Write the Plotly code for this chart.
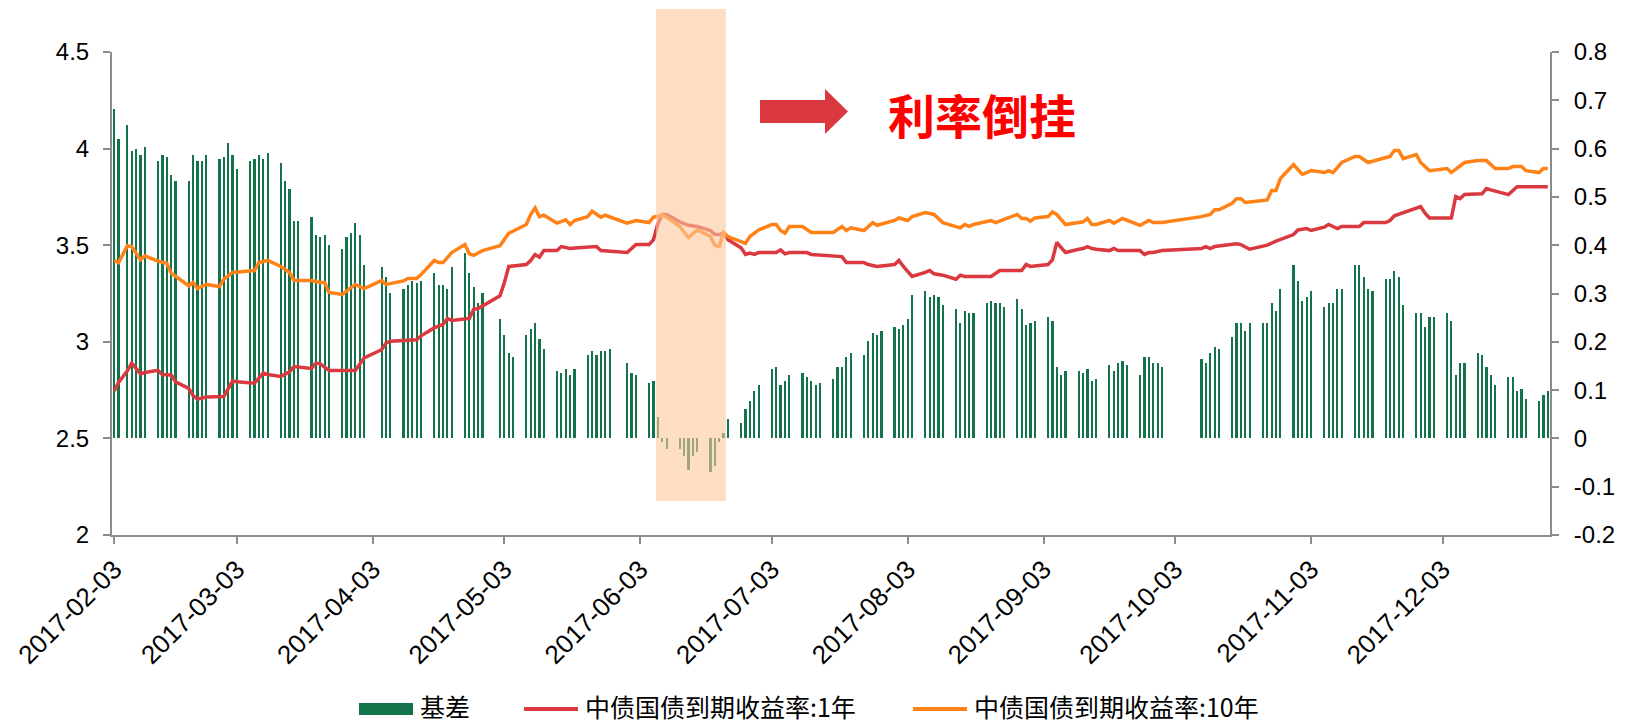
import pandas as pd
import plotly.graph_objects as go

# ── trading calendar (Shanghai, 2017) ────────────────────────────
HOLIDAYS = ["2017-04-03", "2017-04-04", "2017-05-01", "2017-05-29", "2017-05-30",
            "2017-10-02", "2017-10-03", "2017-10-04", "2017-10-05", "2017-10-06"]
MAKEUP_DAYS = ["2017-02-04", "2017-04-01", "2017-05-27", "2017-09-30"]

trade_days = pd.bdate_range("2017-02-03", "2017-12-27")
trade_days = trade_days.drop(pd.to_datetime(HOLIDAYS)).union(pd.to_datetime(MAKEUP_DAYS))

# ── 基差 (right axis), one value per trading day ─────────────────
basis = [
    0.681, 0.620,                              # 02-03..02-04
    0.649, 0.595, 0.599, 0.587, 0.603,
    0.574, 0.587, 0.583, 0.546, 0.533,
    0.533, 0.587, 0.574, 0.574, 0.587,
    0.579, 0.583, 0.612, 0.587, 0.558,         # 02-27..03-03
    0.574, 0.579, 0.587, 0.579, 0.591,
    0.570, 0.533, 0.517, 0.450, 0.450,
    0.459, 0.421, 0.417, 0.421, 0.401,
    0.392, 0.417, 0.426, 0.446, 0.421, 0.359,  # 03-27..04-01
    0.355, 0.334, 0.301,                       # 04-05..04-07
    0.310, 0.318, 0.326, 0.322, 0.326,
    0.343, 0.318, 0.318, 0.310, 0.355,
    0.384, 0.343, 0.314, 0.281, 0.301,
    0.248, 0.214, 0.177, 0.169,                # 05-02..05-05
    0.214, 0.227, 0.239, 0.206, 0.186,
    0.140, 0.136, 0.144, 0.132, 0.144,
    0.173, 0.181, 0.173, 0.181, 0.181, 0.186,  # 05-22..05-27
    0.157, 0.136, 0.132,                       # 05-31..06-02
    0.115, 0.119, 0.045, -0.007, -0.021,
    -0.021, -0.037, -0.066, -0.037, -0.029,
    -0.070, -0.058, -0.008, 0.012, 0.041,
    0.032, 0.061, 0.078, 0.099, 0.111,
    0.144, 0.148, 0.111, 0.119, 0.132,         # 07-03
    0.136, 0.128, 0.119, 0.111, 0.115,
    0.123, 0.148, 0.148, 0.169, 0.177,
    0.173, 0.202, 0.219, 0.214, 0.223,
    0.231, 0.227, 0.235, 0.248, 0.297,         # 07-31..08-04
    0.306, 0.293, 0.297, 0.293, 0.277,
    0.268, 0.239, 0.264, 0.260, 0.260,
    0.281, 0.285, 0.281, 0.281, 0.272,
    0.289, 0.268, 0.235, 0.239, 0.243,         # 08-28..09-01
    0.252, 0.243, 0.148, 0.132, 0.140,
    0.140, 0.136, 0.144, 0.119, 0.123,
    0.152, 0.140, 0.157, 0.161, 0.152,
    0.132, 0.169, 0.169, 0.157, 0.157, 0.148,  # 09-25..09-30
    0.165, 0.157, 0.177, 0.190, 0.186,         # 10-09
    0.210, 0.239, 0.239, 0.223, 0.239,
    0.239, 0.239, 0.281, 0.264, 0.310,
    0.359, 0.326, 0.285, 0.293, 0.306,         # 10-30..11-03
    0.272, 0.281, 0.281, 0.310, 0.310,
    0.359, 0.359, 0.334, 0.310, 0.306,
    0.330, 0.330, 0.347, 0.334, 0.277,
    0.260, 0.260, 0.231, 0.252, 0.252,         # 11-27..12-01
    0.260, 0.243, 0.132, 0.157, 0.157,
    0.177, 0.173, 0.148, 0.132, 0.111,
    0.128, 0.128, 0.099, 0.103, 0.082,
    0.078, 0.090, 0.099,                       # 12-25..12-27
]
assert len(basis) == len(trade_days)

# ── 中债国债到期收益率:1年 (left axis) ───────────────────────────
y1_dates = [
    "02-03", "02-04", "02-06", "02-07", "02-09", "02-10", "02-13", "02-14", "02-16", "02-17",
    "02-20", "02-21", "02-22", "02-24", "02-28", "03-02", "03-03", "03-07", "03-09", "03-10",
    "03-13", "03-15", "03-16", "03-20", "03-21", "03-22", "03-24", "03-30", "04-01", "04-05",
    "04-06", "04-07", "04-13", "04-14", "04-17", "04-18", "04-19", "04-20", "04-21", "04-25",
    "04-26", "04-27", "05-02", "05-03", "05-04", "05-08", "05-09", "05-10", "05-11", "05-12",
    "05-15", "05-16", "05-18", "05-19", "05-23", "05-24", "05-25", "05-31", "06-02", "06-05",
    "06-06", "06-07", "06-08", "06-09", "06-12", "06-14", "06-16", "06-19", "06-20", "06-21",
    "06-22", "06-23", "06-26", "06-27", "06-28", "06-29", "06-30", "07-04", "07-05", "07-06",
    "07-07", "07-11", "07-12", "07-18", "07-19", "07-20", "07-24", "07-25", "07-27", "07-31",
    "08-01", "08-02", "08-04", "08-07", "08-08", "08-09", "08-11", "08-14", "08-15", "08-16",
    "08-18", "08-22", "08-24", "08-29", "08-30", "08-31", "09-04", "09-05", "09-06", "09-08",
    "09-11", "09-12", "09-13", "09-14", "09-15", "09-18", "09-19", "09-20", "09-25", "09-26",
    "09-27", "09-28", "09-30", "10-09", "10-10", "10-11", "10-12", "10-17", "10-18", "10-20",
    "10-24", "10-26", "10-30", "10-31", "11-02", "11-03", "11-06", "11-07", "11-09", "11-10",
    "11-14", "11-15", "11-20", "11-21", "11-22", "11-24", "11-28", "11-29", "11-30", "12-05",
    "12-06", "12-07", "12-08", "12-12", "12-13", "12-14", "12-18", "12-20", "12-27",
]
y1_vals = [
    2.745, 2.79, 2.85, 2.89, 2.834, 2.841, 2.852, 2.831, 2.828, 2.793,
    2.759, 2.721, 2.703, 2.714, 2.717, 2.797, 2.793, 2.786, 2.838, 2.831,
    2.821, 2.845, 2.872, 2.862, 2.890, 2.886, 2.852, 2.852, 2.917, 2.959,
    2.993, 3.003, 3.010, 3.031, 3.072, 3.083, 3.090, 3.121, 3.110, 3.121,
    3.169, 3.172, 3.238, 3.307, 3.390, 3.400, 3.421, 3.452, 3.438, 3.472,
    3.472, 3.493, 3.483, 3.486, 3.493, 3.493, 3.472, 3.462, 3.503, 3.503,
    3.528, 3.610, 3.659, 3.659, 3.621, 3.603, 3.597, 3.576, 3.555, 3.555,
    3.562, 3.528, 3.486, 3.452, 3.459, 3.452, 3.462, 3.462, 3.476, 3.455,
    3.462, 3.462, 3.452, 3.441, 3.441, 3.410, 3.410, 3.400, 3.390, 3.400,
    3.421, 3.390, 3.338, 3.359, 3.369, 3.352, 3.345, 3.324, 3.345, 3.338,
    3.338, 3.338, 3.369, 3.369, 3.400, 3.390, 3.400, 3.424, 3.514, 3.462,
    3.479, 3.483, 3.493, 3.483, 3.479, 3.472, 3.483, 3.472, 3.472, 3.452,
    3.462, 3.462, 3.472, 3.483, 3.493, 3.483, 3.493, 3.507, 3.503, 3.479,
    3.500, 3.521, 3.555, 3.579, 3.586, 3.576, 3.593, 3.607, 3.586, 3.597,
    3.597, 3.617, 3.617, 3.628, 3.652, 3.669, 3.700, 3.666, 3.641, 3.641,
    3.752, 3.741, 3.762, 3.766, 3.793, 3.786, 3.762, 3.803, 3.803,
]

# ── 中债国债到期收益率:10年 (left axis) ──────────────────────────
y10_dates = [
    "02-03", "02-04", "02-06", "02-07", "02-09", "02-10", "02-13", "02-15", "02-16", "02-17",
    "02-20", "02-21", "02-22", "02-24", "02-27", "02-28", "03-02", "03-07", "03-08", "03-10",
    "03-13", "03-15", "03-16", "03-20", "03-22", "03-23", "03-24", "03-27", "03-30", "04-01",
    "04-05", "04-06", "04-10", "04-11", "04-13", "04-14", "04-17", "04-18", "04-19", "04-21",
    "04-24", "04-25", "04-26", "04-28", "05-02", "05-04", "05-08", "05-09", "05-10", "05-11",
    "05-12", "05-15", "05-17", "05-18", "05-19", "05-22", "05-23", "05-25", "05-26", "05-31",
    "06-02", "06-05", "06-06", "06-08", "06-09", "06-12", "06-13", "06-14", "06-16", "06-19",
    "06-20", "06-21", "06-22", "06-23", "06-27", "06-28", "06-30", "07-03", "07-04", "07-05",
    "07-06", "07-07", "07-10", "07-12", "07-17", "07-19", "07-20", "07-21", "07-24", "07-26",
    "07-27", "07-31", "08-01", "08-03", "08-04", "08-07", "08-09", "08-11", "08-15", "08-16",
    "08-17", "08-18", "08-22", "08-23", "08-28", "08-29", "08-30", "08-31", "09-01", "09-04",
    "09-05", "09-06", "09-08", "09-12", "09-13", "09-14", "09-15", "09-18", "09-19", "09-21",
    "09-25", "09-27", "09-28", "09-30", "10-09", "10-11", "10-12", "10-13", "10-16", "10-17",
    "10-18", "10-19", "10-23", "10-24", "10-25", "10-26", "10-27", "10-30", "11-01", "11-03",
    "11-06", "11-07", "11-08", "11-10", "11-13", "11-14", "11-16", "11-21", "11-22", "11-23",
    "11-24", "11-27", "11-28", "11-30", "12-04", "12-05", "12-08", "12-11", "12-13", "12-15",
    "12-18", "12-19", "12-21", "12-22", "12-25", "12-26", "12-27",
]
y10_vals = [
    3.421, 3.410, 3.497, 3.493, 3.424, 3.445, 3.417, 3.407, 3.355, 3.338,
    3.290, 3.307, 3.276, 3.297, 3.286, 3.324, 3.359, 3.369, 3.410, 3.421,
    3.390, 3.359, 3.317, 3.317, 3.307, 3.307, 3.255, 3.245, 3.297, 3.276,
    3.317, 3.297, 3.315, 3.328, 3.328, 3.348, 3.421, 3.410, 3.410, 3.462,
    3.503, 3.455, 3.448, 3.472, 3.497, 3.562, 3.607, 3.659, 3.693, 3.648,
    3.655, 3.614, 3.631, 3.607, 3.628, 3.648, 3.676, 3.645, 3.655, 3.614,
    3.628, 3.617, 3.645, 3.655, 3.645, 3.597, 3.570, 3.540, 3.579, 3.545,
    3.500, 3.493, 3.566, 3.545, 3.510, 3.545, 3.579, 3.607, 3.607, 3.576,
    3.562, 3.597, 3.597, 3.566, 3.566, 3.597, 3.576, 3.590, 3.576, 3.617,
    3.603, 3.628, 3.641, 3.628, 3.648, 3.669, 3.659, 3.617, 3.590, 3.607,
    3.597, 3.607, 3.628, 3.617, 3.659, 3.638, 3.638, 3.624, 3.641, 3.648,
    3.672, 3.659, 3.607, 3.621, 3.638, 3.607, 3.607, 3.628, 3.614, 3.638,
    3.603, 3.628, 3.617, 3.617, 3.648, 3.659, 3.683, 3.683, 3.717, 3.741,
    3.741, 3.721, 3.731, 3.734, 3.783, 3.783, 3.845, 3.917, 3.866, 3.886,
    3.876, 3.886, 3.876, 3.928, 3.959, 3.959, 3.928, 3.959, 3.990, 3.990,
    3.948, 3.969, 3.928, 3.886, 3.897, 3.876, 3.928, 3.938, 3.938, 3.897,
    3.897, 3.907, 3.907, 3.886, 3.876, 3.897, 3.897,
]

# axis ticks
x_ticks = ["2017-02-03", "2017-03-03", "2017-04-03", "2017-05-03", "2017-06-03", "2017-07-03",
           "2017-08-03", "2017-09-03", "2017-10-03", "2017-11-03", "2017-12-03"]
left_ticks = [2, 2.5, 3, 3.5, 4, 4.5]
left_text = ["2", "2.5", "3", "3.5", "4", "4.5"]
right_ticks = [-0.2, -0.1, 0, 0.1, 0.2, 0.3, 0.4, 0.5, 0.6, 0.7, 0.8]
right_text = ["-0.2", "-0.1", "0", "0.1", "0.2", "0.3", "0.4", "0.5", "0.6", "0.7", "0.8"]

GREEN = "#13734B"
RED = "#DA3940"
ORANGE = "#FF8218"
AXIS_GREY = "#8C8C8C"
NUM_FONT = "Liberation Sans, Arial, sans-serif"
CJK = "Noto Sans CJK SC, sans-serif"

# plot area in page pixels
W, H = 1626, 725
L, R, T, B = 112, 76, 52, 190
PW, PH = W - L - R, H - T - B


def px(x):
    return (x - L) / PW


def py(y):
    return (H - B - y) / PH


fig = go.Figure()

fig.add_trace(go.Bar(
    x=trade_days, y=basis, name="基差",
    marker=dict(color=GREEN, line_width=0),
    width=0.5 * 86400000,
    yaxis="y",
))
fig.add_trace(go.Scatter(
    x=["2017-" + d for d in y1_dates], y=y1_vals, name="中债国债到期收益率:1年",
    mode="lines", line=dict(color=RED, width=3.5),
    yaxis="y2",
))
fig.add_trace(go.Scatter(
    x=["2017-" + d for d in y10_dates], y=y10_vals, name="中债国债到期收益率:10年",
    mode="lines", line=dict(color=ORANGE, width=3.5),
    yaxis="y2",
))

axis_common = dict(
    showgrid=False, zeroline=False, showline=True, linecolor=AXIS_GREY, linewidth=2,
    ticks="outside", ticklen=7, tickwidth=2, tickcolor=AXIS_GREY,
)

# highlighted inversion window
shapes = [dict(
    type="rect", xref="x", yref="paper",
    x0="2017-06-06 14:00", x1="2017-06-22 13:00", y0=py(501), y1=py(9),
    fillcolor="rgb(252,200,157)", opacity=0.6, line_width=0, layer="above",
)]

# arrow
arrow_pts = [(760, 100), (825, 100), (825, 89), (848, 111.5), (825, 134), (825, 123), (760, 123)]
path = "M " + " L ".join(f"{px(x):.5f},{py(y):.5f}" for x, y in arrow_pts) + " Z"
shapes.append(dict(type="path", xref="paper", yref="paper", path=path,
                   fillcolor=RED, line_width=0, layer="above"))

# legend drawn by hand (wide swatches)
ly = 709
shapes.append(dict(type="rect", xref="paper", yref="paper",
                   x0=px(359), x1=px(413), y0=py(ly + 6), y1=py(ly - 6),
                   fillcolor=GREEN, line_width=0))
shapes.append(dict(type="line", xref="paper", yref="paper",
                   x0=px(524), x1=px(578), y0=py(ly), y1=py(ly),
                   line=dict(color=RED, width=4)))
shapes.append(dict(type="line", xref="paper", yref="paper",
                   x0=px(913), x1=px(967), y0=py(ly), y1=py(ly),
                   line=dict(color=ORANGE, width=4)))

annotations = [
    dict(text="<b>利率倒挂</b>", xref="paper", yref="paper", x=px(982), y=py(113),
         xanchor="center", yanchor="middle", showarrow=False,
         font=dict(family=CJK, size=47, color="#FF0000")),
]
for x0, label in [(418, "基差"), (583, "中债国债到期收益率:1年"), (972, "中债国债到期收益率:10年")]:
    annotations.append(dict(text=label, xref="paper", yref="paper", x=px(x0), y=py(ly - 3),
                            xanchor="left", yanchor="middle", showarrow=False,
                            font=dict(family=CJK, size=25, color="#000000")))

fig.update_layout(
    width=W, height=H,
    plot_bgcolor="#FFFFFF", paper_bgcolor="#FFFFFF",
    margin=dict(l=L, r=R, t=T, b=B, autoexpand=False),
    showlegend=False,
    bargap=0,
    xaxis=dict(
        type="date", range=["2017-02-02 12:00", "2017-12-27 12:00"],
        tickvals=x_ticks, ticktext=x_ticks, tickangle=-45,
        tickfont=dict(family=NUM_FONT, size=26, color="#000000"),
        **axis_common,
    ),
    yaxis=dict(
        side="right", range=[-0.2, 0.8], tickvals=right_ticks, ticktext=right_text,
        tickfont=dict(family=NUM_FONT, size=24, color="#000000"),
        ticklabelstandoff=10, **axis_common,
    ),
    yaxis2=dict(
        side="left", overlaying="y", range=[2, 4.5], tickvals=left_ticks, ticktext=left_text,
        tickfont=dict(family=NUM_FONT, size=24, color="#000000"),
        ticklabelstandoff=9, **axis_common,
    ),
    shapes=shapes,
    annotations=annotations,
)

# the page's default 8px body margin would push the figure off its 1626x725 frame
fig.write_html("out.html", config={"displayModeBar": False},
               post_script="document.body.style.margin='0';")
